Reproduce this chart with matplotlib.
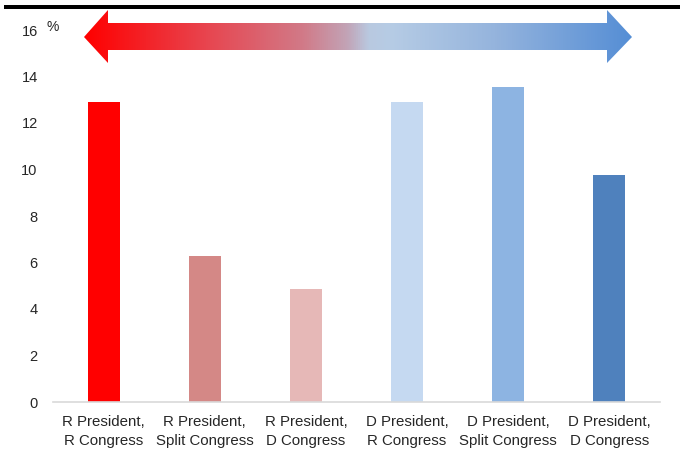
import numpy as np
import matplotlib
matplotlib.use("Agg")
import matplotlib.pyplot as plt
from matplotlib.patches import Polygon, Rectangle
from matplotlib.colors import LinearSegmentedColormap

plt.rcParams['font.family'] = ['Liberation Sans', 'DejaVu Sans']

categories = ["R President,\nR Congress", "R President,\nSplit Congress", "R President,\nD Congress",
              "D President,\nR Congress", "D President,\nSplit Congress", "D President,\nD Congress"]
values = [12.9, 6.3, 4.85, 12.9, 13.55, 9.75]
colors = ["#FF0000", "#D48886", "#E6B8B7", "#C5D9F1", "#8DB4E2", "#4F81BD"]
yticks = [0, 2, 4, 6, 8, 10, 12, 14, 16]

W, H = 680, 450
fig = plt.figure(figsize=(6.8, 4.5), dpi=100)

ax = fig.add_axes([53 / W, 1 - 402 / H, (660 - 53) / W, (402 - 30) / H])
x = np.arange(len(categories))
ax.bar(x, values, width=0.315, color=colors, zorder=2)
ax.set_xlim(-0.5, len(categories) - 0.5)
ax.set_ylim(0, 16)
ax.set_yticks(yticks)
ax.set_yticklabels([str(t) for t in yticks], fontsize=10.5, color="#262626")
ax.set_xticks(x)
ax.set_xticklabels(categories, fontsize=10.8, color="#262626", linespacing=1.5)
ax.tick_params(axis="y", length=0, pad=11)
ax.tick_params(axis="x", length=0, pad=9)
for s in ["top", "right", "left"]:
    ax.spines[s].set_visible(False)
ax.spines["bottom"].set_color("#D9D9D9")
ax.spines["bottom"].set_linewidth(1.2)

# overlay in pixel coordinates for decorations
ov = fig.add_axes([0, 0, 1, 1], zorder=5)
ov.set_xlim(0, W)
ov.set_ylim(H, 0)
ov.axis("off")

# top rule
ov.add_patch(Rectangle((4, 4.5), W - 4, 4, color="black", lw=0))

ov.text(53, 27, "%", fontsize=10, color="#262626", ha="center", va="center")

# double arrow with gradient
xl, xr = 84, 632
hb_l, hb_r = 108, 607
ymid, sh_t, sh_b, hd_t, hd_b = 37, 23, 50, 10, 63
pts = [(xl, ymid), (hb_l, hd_t), (hb_l, sh_t), (hb_r, sh_t), (hb_r, hd_t), (xr, ymid),
       (hb_r, hd_b), (hb_r, sh_b), (hb_l, sh_b), (hb_l, hd_b)]
poly = Polygon(pts, closed=True, facecolor="none", edgecolor="none")
ov.add_patch(poly)
cmap = LinearSegmentedColormap.from_list("arr", [
    (0.0, "#FF0000"), (0.22, "#E8444E"), (0.40, "#D17A88"), (0.48, "#C2A3B6"),
    (0.52, "#B9C9E0"), (0.56, "#B6CCE5"), (0.75, "#95B4DD"), (1.0, "#558ED5")])
grad = np.linspace(0, 1, 512).reshape(1, -1)
im = ov.imshow(grad, cmap=cmap, extent=[xl, xr, hd_b, hd_t], aspect="auto", zorder=3)
im.set_clip_path(poly)
ov.set_xlim(0, W)
ov.set_ylim(H, 0)

fig.savefig("out.png", dpi=100)
